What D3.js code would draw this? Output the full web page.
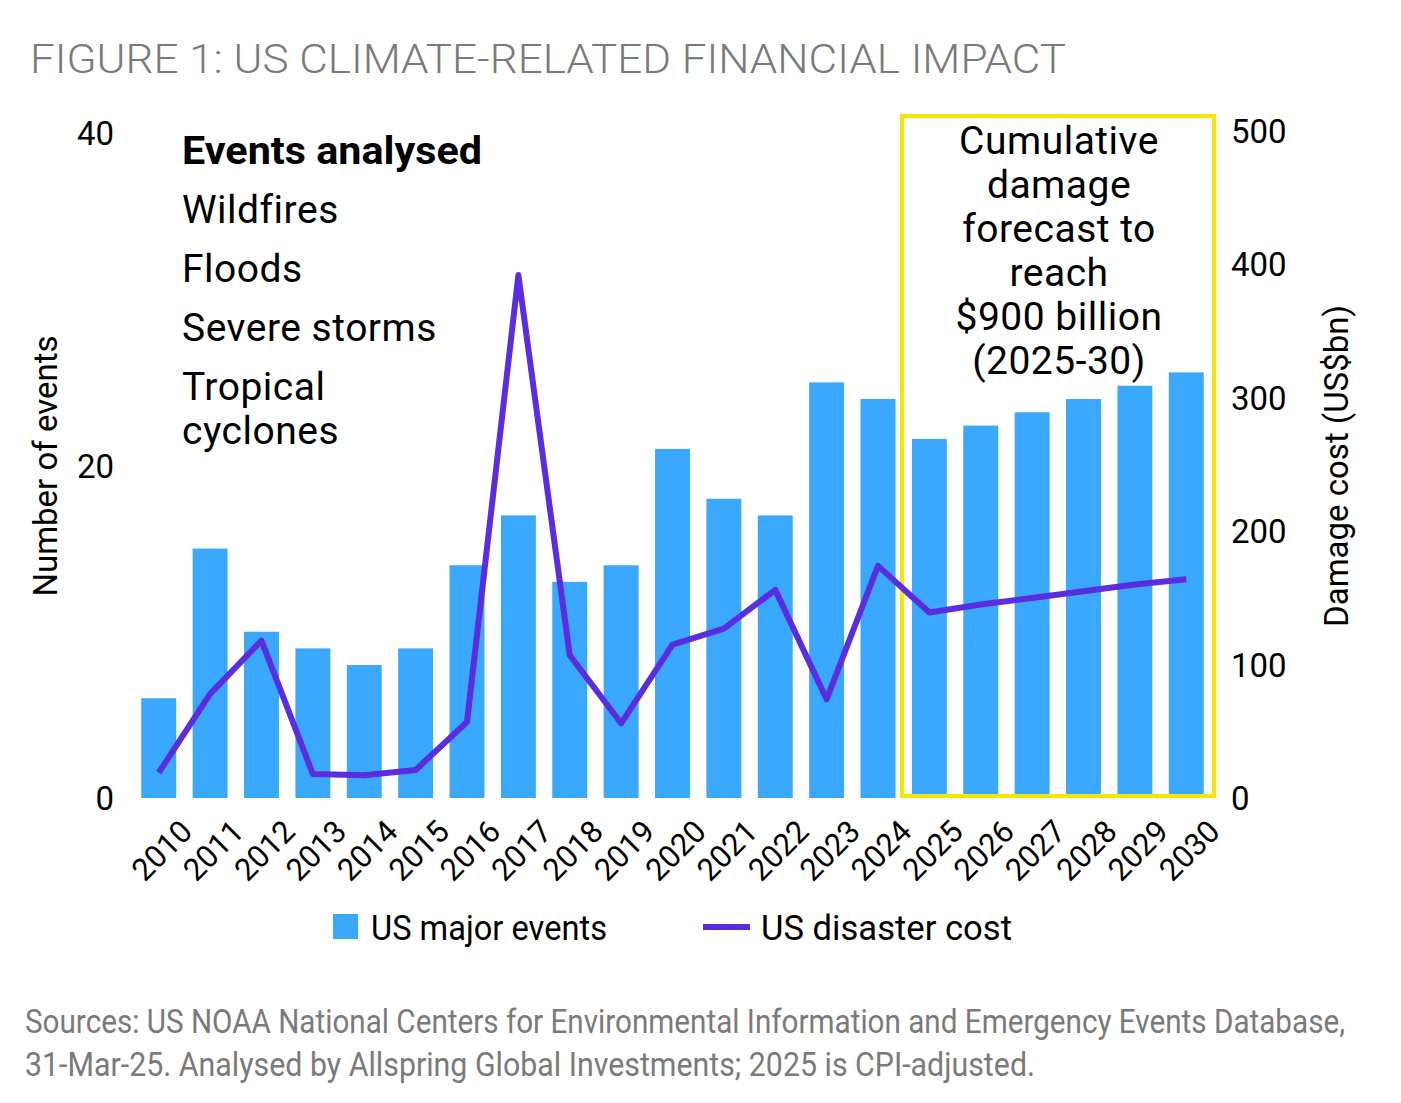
<!DOCTYPE html>
<html>
<head>
<meta charset="utf-8">
<script src="https://d3js.org/d3.v7.min.js"></script>
<style>
  body { margin: 0; background: #fff; }
  text { font-family: Roboto, "Noto Sans", sans-serif; }
</style>
</head>
<body>
<div id="chart"></div>
<script>
var years = ["2010","2011","2012","2013","2014","2015","2016","2017","2018","2019","2020",
             "2021","2022","2023","2024","2025","2026","2027","2028","2029","2030"];
var majorEvents = [6,15,10,9,8,9,14,17,13,14,21,18,17,25,24,21.6,22.4,23.2,24,24.8,25.6];
var disasterCost = [19,78,118,18,17,21,57,392,107,56,115,127,156,74,174,139,145,150,155,160,164];
var leftTicks = [0,20,40];
var rightTicks = [0,100,200,300,400,500];
var eventTypes = ["Wildfires","Floods","Severe storms","Tropical","cyclones"];

var width = 1401, height = 1103;
var svg = d3.select("#chart").append("svg")
  .attr("width", width).attr("height", height);

var x = d3.scaleBand().domain(years).range([131, 1214]).paddingInner(0.32).paddingOuter(0.2);
var yL = d3.scaleLinear().domain([0, 40]).range([798, 133]);
var yR = d3.scaleLinear().domain([0, 500]).range([798, 131]);

// title
svg.append("text").attr("x", 30).attr("y", 73)
  .attr("textLength", 1036).attr("lengthAdjust", "spacingAndGlyphs")
  .style("font-size", "41px").style("fill", "#7a7a7a").style("font-weight", 300)
  .text("FIGURE 1: US CLIMATE-RELATED FINANCIAL IMPACT");

// bars
svg.selectAll(".bar").data(years).enter().append("rect")
  .attr("x", function(d) { return x(d); })
  .attr("width", x.bandwidth())
  .attr("y", function(d, i) { return yL(majorEvents[i]); })
  .attr("height", function(d, i) { return yL(0) - yL(majorEvents[i]); })
  .attr("fill", "#3aa8fc");

// forecast box
svg.append("rect")
  .attr("x", x("2025") - 10).attr("y", 116)
  .attr("width", 1214 - x("2025") + 10).attr("height", 680)
  .attr("fill", "none").attr("stroke", "#f5e600").attr("stroke-width", 4);

// line
var line = d3.line()
  .x(function(d, i) { return x(years[i]) + x.bandwidth() / 2; })
  .y(function(d) { return yR(d); });
svg.append("path").datum(disasterCost)
  .attr("d", line).attr("fill", "none")
  .attr("stroke", "#5b2de0").attr("stroke-width", 6).attr("stroke-linejoin", "round");

// left axis labels
svg.selectAll(".lt").data(leftTicks).enter().append("text")
  .attr("x", 114).attr("y", function(d) { return yL(d) + 12; })
  .attr("text-anchor", "end").style("font-size", "33px").text(function(d) { return d; });
svg.append("text")
  .attr("transform", "translate(57,466) rotate(-90)")
  .attr("text-anchor", "middle").style("font-size", "33px").text("Number of events");

// right axis labels
svg.selectAll(".rt").data(rightTicks).enter().append("text")
  .attr("x", 1231).attr("y", function(d) { return yR(d) + 12; })
  .style("font-size", "33px").text(function(d) { return d; });
svg.append("text")
  .attr("transform", "translate(1348,466) rotate(-90)")
  .attr("text-anchor", "middle").style("font-size", "33px").text("Damage cost (US$bn)");

// x axis labels
svg.selectAll(".xl").data(years).enter().append("text")
  .attr("transform", function(d) {
    return "translate(" + (x(d) + x.bandwidth() / 2 + 20) + ",818) rotate(-45)";
  })
  .attr("text-anchor", "end").attr("dy", "0.7em")
  .style("font-size", "31px").text(function(d) { return d; });

// events analysed
svg.append("text").attr("x", 182).attr("y", 164)
  .attr("textLength", 300).attr("lengthAdjust", "spacingAndGlyphs")
  .style("font-size", "38px").style("font-weight", "bold").text("Events analysed");
svg.selectAll(".ev").data(eventTypes).enter().append("text")
  .attr("x", 182).attr("y", function(d, i) { return 223 + i * 59 - (i == 4 ? 15 : 0); })
  .style("font-size", "39px").style("letter-spacing", "0.5px").text(function(d) { return d; });

// forecast text
var boxLines = ["Cumulative","damage","forecast to","reach","$900 billion","(2025-30)"];
svg.selectAll(".bx").data(boxLines).enter().append("text")
  .attr("x", 1059).attr("y", function(d, i) { return 154 + i * 44; })
  .attr("text-anchor", "middle").style("font-size", "39px").style("letter-spacing", "0.5px")
  .text(function(d) { return d; });

// legend
svg.append("rect").attr("x", 333).attr("y", 914).attr("width", 25).attr("height", 25).attr("fill", "#3aa8fc");
svg.append("text").attr("x", 371).attr("y", 940)
  .attr("textLength", 236).attr("lengthAdjust", "spacingAndGlyphs")
  .style("font-size", "35px").text("US major events");
svg.append("line").attr("x1", 703).attr("x2", 750).attr("y1", 927).attr("y2", 927)
  .attr("stroke", "#5b2de0").attr("stroke-width", 6);
svg.append("text").attr("x", 761).attr("y", 940)
  .attr("textLength", 251).attr("lengthAdjust", "spacingAndGlyphs")
  .style("font-size", "35px").text("US disaster cost");

// sources
var sources = ["Sources: US NOAA National Centers for Environmental Information and Emergency Events Database,",
               "31-Mar-25. Analysed by Allspring Global Investments; 2025 is CPI-adjusted."];
var srcLen = [1320, 1010];
svg.selectAll(".src").data(sources).enter().append("text")
  .attr("x", 25).attr("y", function(d, i) { return 1033 + i * 43; })
  .attr("textLength", function(d, i) { return srcLen[i]; })
  .attr("lengthAdjust", "spacingAndGlyphs")
  .style("font-size", "33px").style("fill", "#7a7a7a")
  .text(function(d) { return d; });
</script>
</body>
</html>
